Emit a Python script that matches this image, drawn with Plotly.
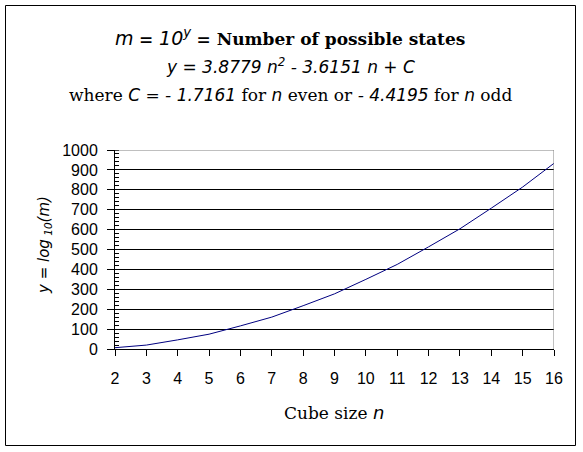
import plotly.graph_objects as go

# cube size n and y = log10(number of states)
cube_size = [2, 3, 4, 5, 6, 7, 8, 9, 10, 11, 12, 13, 14, 15, 16]
log_states = [6.57, 19.64, 45.87, 74.45, 116.20, 160.29, 217.55, 277.16,
              349.92, 425.04, 513.32, 603.95, 707.74, 813.88, 933.19]

x_ticks = list(range(2, 17))
y_ticks = list(range(0, 1001, 100))

SERIF = "DejaVu Serif, serif"
SANS = "Liberation Sans, Arial, sans-serif"
ITAL = "font-family:DejaVu Sans;font-style:italic"

W, H = 583, 452
PL, PR, PT, PB = 115, 554, 150, 349   # plot area edges in pixels

fig = go.Figure()
fig.add_trace(go.Scatter(x=cube_size, y=log_states, mode="lines",
                         line=dict(color="#000080", width=1), hoverinfo="skip"))

fig.update_layout(
    width=W, height=H,
    margin=dict(l=PL, r=W - PR, t=PT, b=H - PB),
    paper_bgcolor="white", plot_bgcolor="white",
    showlegend=False,
)
fig.update_xaxes(
    range=[2, 16], tickvals=x_ticks, ticks="outside", ticklen=6, tickcolor="black",
    showgrid=False, showline=True, linecolor="black", linewidth=1, zeroline=False,
    tickfont=dict(family=SANS, size=16, color="black"), ticklabelstandoff=9,
)
fig.update_yaxes(
    range=[0, 1000], tickvals=y_ticks, ticks="outside", ticklen=7, tickcolor="black",
    showgrid=True, gridcolor="black", gridwidth=1,
    showline=True, linecolor="black", linewidth=1, zeroline=False,
    tickfont=dict(family=SANS, size=16, color="black"), ticklabelstandoff=6,
    minor=dict(dtick=20, ticks="inside", ticklen=4, tickcolor="black", showgrid=False),
)

# gray top / right edges of the plot area
fig.add_shape(type="line", xref="x", yref="y", x0=2, x1=16, y0=1000, y1=1000,
              line=dict(color="#808080", width=1), layer="above")
fig.add_shape(type="line", xref="x", yref="y", x0=16, x1=16, y0=0, y1=1000,
              line=dict(color="#808080", width=1), layer="above")


# pixel -> paper coords
def px_x(p):
    return (p - PL) / (PR - PL)


def px_y(p):
    return (PB - p) / (PB - PT)


fig.add_shape(type="rect", xref="paper", yref="paper",
              x0=px_x(5.5), x1=px_x(575.5), y0=px_y(5.5), y1=px_y(445.5),
              line=dict(color="black", width=1))

title_lines = [
    (f"<span style='{ITAL};font-size:19px'>m</span> <b>= </b>"
     f"<span style='{ITAL};font-size:19px'>10<sup>y</sup></span>"
     " <b>= Number of possible states</b>", 37, 17),
    (f"<span style='{ITAL};font-size:17px'>y = 3.8779 n<sup>2</sup> - 3.6151 n + C</span>", 66, 15),
    (f"where <span style='{ITAL};font-size:17px'>C</span> = "
     f"<span style='{ITAL};font-size:17px'>- 1.7161</span> for "
     f"<span style='{ITAL};font-size:17px'>n</span> even or "
     f"<span style='{ITAL};font-size:17px'>- 4.4195</span> for "
     f"<span style='{ITAL};font-size:17px'>n</span> odd", 95, 17),
]
for txt, ypx, size in title_lines:
    fig.add_annotation(text=txt, xref="paper", yref="paper", x=px_x(290), y=px_y(ypx),
                       xanchor="center", yanchor="middle", showarrow=False,
                       font=dict(family=SERIF, size=size, color="black"))

fig.add_annotation(text=f"Cube size <span style='{ITAL};font-size:18px'>n</span>",
                   xref="paper", yref="paper", x=px_x(334), y=px_y(412),
                   xanchor="center", yanchor="middle", showarrow=False,
                   font=dict(family=SERIF, size=17, color="black"))

fig.add_annotation(text=f"<span style='{ITAL}'>y = log<sub> 10</sub>(m)</span>",
                   xref="paper", yref="paper", x=px_x(44), y=px_y(245),
                   xanchor="center", yanchor="middle", textangle=-90, showarrow=False,
                   font=dict(family=SERIF, size=15, color="black"))

# drop the default page margin so the chart border sits at the window edge
fig.write_html("out.html", config={"displayModeBar": False},
               post_script="document.body.style.margin='0';")
